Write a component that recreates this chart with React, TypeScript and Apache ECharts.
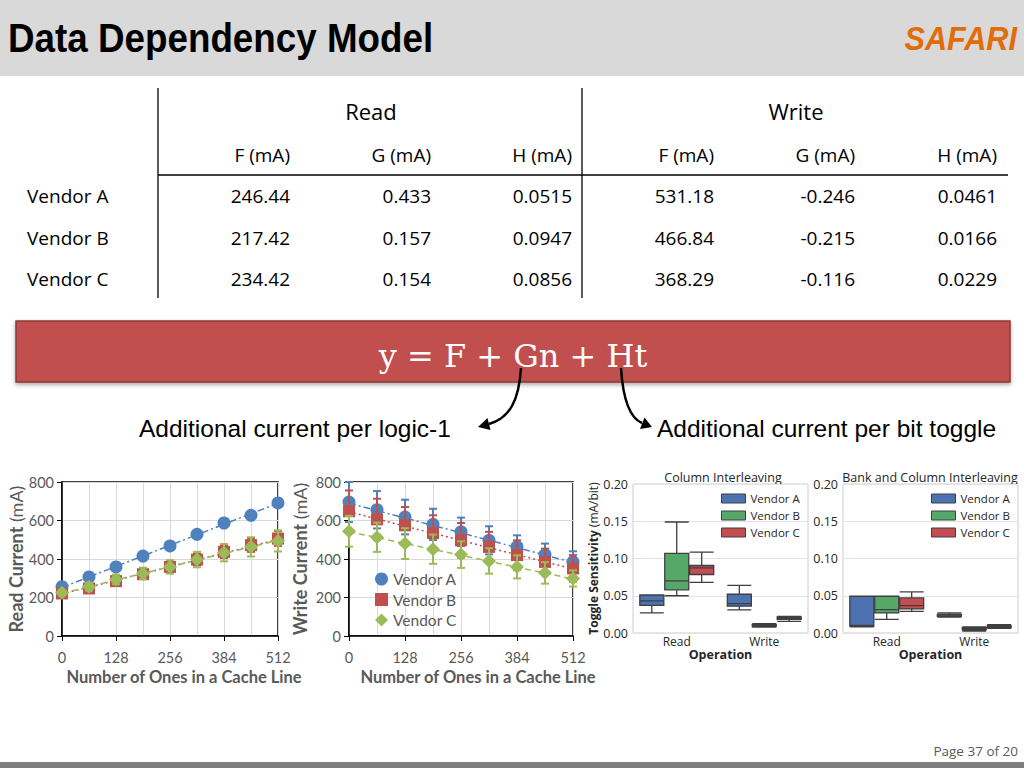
import React, { useEffect, useRef } from 'react';
import * as echarts from 'echarts';

// ---------- data ----------
const xOnes = [0, 64, 128, 192, 256, 320, 384, 448, 512];
const readA = [256, 307, 359, 415, 468, 528, 587, 627, 691];
const readB = [221, 247, 285, 321, 359, 397, 437, 472, 506];
const readC = [225, 256, 294, 325, 359, 397, 433, 463, 494];
const readErrB = [15, 18, 22, 25, 28, 30, 32, 35, 38];
const readErrC = [15, 20, 25, 30, 35, 40, 45, 50, 55];
const trendX = [0, 512];
const readTrendA = [252, 690];
const readTrendB = [218, 502];
const readTrendC = [222, 497];

const writeA = [696, 656, 618, 580, 541, 497, 463, 423, 385];
const writeB = [648, 606, 575, 535, 497, 463, 420, 385, 351];
const writeC = [544, 513, 480, 451, 423, 390, 359, 328, 299];
const writeErrA = [104, 97, 90, 81, 74, 73, 60, 57, 55];
const writeErrB = [108, 107, 95, 92, 90, 78, 77, 69, 69];
const writeErrC = [80, 76, 80, 76, 69, 66, 60, 56, 42];
const writeTrendA = [690, 382];
const writeTrendB = [645, 348];
const writeTrendC = [542, 296];

const vendors = ['Vendor A', 'Vendor B', 'Vendor C'];
const operations = ['Read', 'Write'];
// [min, Q1, median, Q3, max] for Read, Write
const ciA = [[0.027, 0.037, 0.043, 0.051, 0.051], [0.031, 0.036, 0.0395, 0.052, 0.064]];
const ciB = [[0.05, 0.058, 0.07, 0.107, 0.149], [0.008, 0.009, 0.0103, 0.0117, 0.0126]];
const ciC = [[0.068, 0.0785, 0.0874, 0.0906, 0.1085], [0.0157, 0.0184, 0.02, 0.0215, 0.0224]];
const bciA = [[0.0081, 0.0094, 0.0103, 0.0493, 0.0493], [0.0215, 0.0224, 0.0242, 0.0251, 0.0269]];
const bciB = [[0.0184, 0.0269, 0.0314, 0.0493, 0.0493], [0.0027, 0.0045, 0.0058, 0.0072, 0.0081]];
const bciC = [[0.0291, 0.0323, 0.0368, 0.0471, 0.0552], [0.0063, 0.0072, 0.0081, 0.0094, 0.0112]];

const tableGroups = ['Read', 'Write'];
const tableHeaders = ['F (mA)', 'G (mA)', 'H (mA)', 'F (mA)', 'G (mA)', 'H (mA)'];
const tableRows = ['Vendor A', 'Vendor B', 'Vendor C'];
const tableValues = [
  ['246.44', '0.433', '0.0515', '531.18', '-0.246', '0.0461'],
  ['217.42', '0.157', '0.0947', '466.84', '-0.215', '0.0166'],
  ['234.42', '0.154', '0.0856', '368.29', '-0.116', '0.0229'],
];

// ---------- styles ----------
const XL = ['#4f81bd', '#c0504d', '#9bbb59'];
const SB = ['#4c72b0', '#55a868', '#c44e52'];
const GREY = '#595959';
const CAL = 'Lato';
const SANS = 'Liberation Sans';
const OS = 'Open Sans';

const pts = (xs: number[], ys: number[]) => xs.map((x, i) => [x, ys[i]]);
const errs = (xs: number[], ys: number[], es: number[]) => xs.map((x, i) => [x, ys[i] - es[i], ys[i] + es[i]]);

const errRender = (color: string) => (params: any, api: any) => {
  const x = api.value(0);
  const pLo = api.coord([x, api.value(1)]);
  const pHi = api.coord([x, api.value(2)]);
  const w = 4;
  const st = { stroke: color, lineWidth: 2 };
  return {
    type: 'group',
    children: [
      { type: 'line', shape: { x1: pLo[0], y1: pLo[1], x2: pHi[0], y2: pHi[1] }, style: st },
      { type: 'line', shape: { x1: pLo[0] - w, y1: pLo[1], x2: pLo[0] + w, y2: pLo[1] }, style: st },
      { type: 'line', shape: { x1: pHi[0] - w, y1: pHi[1], x2: pHi[0] + w, y2: pHi[1] }, style: st },
    ],
  };
};

function lineAxes(gi: number, yName: string, yGap: number, xPad: number) {
  const x = {
    type: 'value', gridIndex: gi, min: 0, max: 512, interval: 128,
    axisLine: { show: true, lineStyle: { color: '#000', width: 1.5 } },
    axisTick: { show: true, length: 5, lineStyle: { color: '#000' } },
    axisLabel: { fontFamily: CAL, fontSize: 14.5, color: GREY, margin: 14 },
    splitLine: { show: true, lineStyle: { color: '#d9d9d9' } },
    minorTick: { show: false, splitNumber: 2 },
    minorSplitLine: { show: true, lineStyle: { color: '#d9d9d9' } },
    name: 'Number of Ones in a Cache Line', nameLocation: 'middle', nameGap: 32,
    nameTextStyle: { fontFamily: CAL, fontSize: 16.5, fontWeight: 'bold', color: GREY, padding: [0, 0, 0, xPad] },
  };
  const y = {
    type: 'value', gridIndex: gi, min: 0, max: 800, interval: 200,
    axisLine: { show: true, lineStyle: { color: '#000', width: 1.5 } },
    axisTick: { show: true, length: 5, lineStyle: { color: '#000' } },
    axisLabel: { fontFamily: CAL, fontSize: 14.5, color: GREY, margin: 8 },
    splitLine: { show: true, lineStyle: { color: '#d9d9d9' } },
    name: `{b|${yName}} {n|(mA)}`, nameLocation: 'middle', nameGap: yGap,
    nameTextStyle: {
      fontFamily: CAL, fontSize: 18, color: GREY,
      rich: {
        b: { fontFamily: CAL, fontSize: 18, fontWeight: 'bold', color: GREY },
        n: { fontFamily: CAL, fontSize: 18, color: GREY },
      },
    },
  };
  return { x, y };
}

function boxAxes(gi: number, withName: boolean) {
  const x = {
    type: 'category', gridIndex: gi, data: operations,
    axisLine: { show: false }, axisTick: { show: false },
    axisLabel: { fontFamily: OS, fontSize: 12, color: '#262626', margin: 2 },
    splitLine: { show: false },
    name: 'Operation', nameLocation: 'middle', nameGap: 10,
    nameTextStyle: { fontFamily: OS, fontSize: 12.5, fontWeight: 'bold', color: '#262626' },
  };
  const y: any = {
    type: 'value', gridIndex: gi, min: 0, max: 0.2, interval: 0.05,
    axisLine: { show: false }, axisTick: { show: false },
    axisLabel: { fontFamily: OS, fontSize: 12.5, color: '#262626', margin: 5, formatter: (v: number) => v.toFixed(2) },
    splitLine: { show: true, lineStyle: { color: '#e3e3e3' } },
  };
  if (withName) {
    y.name = '{b|Toggle Sensitivity} {n|(mA/bit)}';
    y.nameLocation = 'middle';
    y.nameGap = 33;
    y.nameTextStyle = {
      fontFamily: OS, fontSize: 12, color: '#262626',
      rich: {
        b: { fontFamily: OS, fontSize: 12, fontWeight: 'bold', color: '#262626' },
        n: { fontFamily: OS, fontSize: 12, color: '#262626' },
      },
    };
  }
  return { x, y };
}

function boxSeries(prefix: string, gi: number, sets: number[][][]) {
  return sets.map((d, i) => ({
    type: 'boxplot', name: `${prefix}|${vendors[i]}`, xAxisIndex: gi, yAxisIndex: gi,
    boxWidth: [24, 24], data: d,
    itemStyle: { color: SB[i], borderColor: '#3f3f3f', borderWidth: 1.3 },
  }));
}

function buildGraphics() {
  const g: any[] = [];
  g.push({ type: 'rect', shape: { x: 0, y: 0, width: 1024, height: 76 }, style: { fill: '#d9d9d9' } });
  g.push({ type: 'text', x: 8, y: 38, scaleX: 0.92, style: { text: 'Data Dependency Model', fontFamily: SANS, fontWeight: 'bold', fontSize: 40, fill: '#000', align: 'left', verticalAlign: 'middle' } });
  g.push({ type: 'text', x: 1017, y: 39, scaleX: 0.93, style: { text: 'SAFARI', fontFamily: SANS, fontWeight: 'bold', fontStyle: 'italic', fontSize: 33, fill: '#e36c0a', align: 'right', verticalAlign: 'middle' } });

  // table
  g.push({ type: 'line', shape: { x1: 158, y1: 88, x2: 158, y2: 298 }, style: { stroke: '#000', lineWidth: 1.3 } });
  g.push({ type: 'line', shape: { x1: 582, y1: 88, x2: 582, y2: 298 }, style: { stroke: '#000', lineWidth: 1.3 } });
  g.push({ type: 'line', shape: { x1: 158, y1: 175, x2: 1008, y2: 175 }, style: { stroke: '#000', lineWidth: 1.5 } });
  const groupX = [371, 796];
  tableGroups.forEach((t, i) => g.push({ type: 'text', x: groupX[i], y: 111, style: { text: t, fontFamily: OS, fontSize: 22, fill: '#000', align: 'center', verticalAlign: 'middle' } }));
  const colR = [290, 431, 572, 714, 855, 997];
  tableHeaders.forEach((t, i) => g.push({ type: 'text', x: colR[i], y: 155, style: { text: t, fontFamily: OS, fontSize: 19, fill: '#000', align: 'right', verticalAlign: 'middle' } }));
  const rowY = [196, 238, 279];
  tableRows.forEach((r, ri) => {
    g.push({ type: 'text', x: 27, y: rowY[ri], style: { text: r, fontFamily: OS, fontSize: 19, fill: '#000', align: 'left', verticalAlign: 'middle' } });
    tableValues[ri].forEach((v, ci) => g.push({ type: 'text', x: colR[ci], y: rowY[ri], style: { text: v, fontFamily: OS, fontSize: 19, fill: '#000', align: 'right', verticalAlign: 'middle' } }));
  });

  // equation box
  g.push({ type: 'rect', shape: { x: 16, y: 321, width: 994, height: 61 }, style: { fill: '#c0504d', stroke: '#8c3836', lineWidth: 1.5, shadowBlur: 4, shadowOffsetY: 2, shadowColor: 'rgba(0,0,0,0.35)' } });
  g.push({ type: 'text', x: 513, y: 356, style: { text: 'y = F + Gn + Ht', fontFamily: 'DejaVu Serif', fontSize: 32, fill: '#fff', align: 'center', verticalAlign: 'middle' } });

  // arrows
  g.push({ type: 'bezierCurve', shape: { x1: 521, y1: 368, cpx1: 519, cpy1: 400, cpx2: 510, cpy2: 418, x2: 489, y2: 424 }, style: { stroke: '#000', lineWidth: 2.5, fill: 'none' } });
  g.push({ type: 'polygon', shape: { points: [[478, 427], [490.5, 430], [487.5, 418]] }, style: { fill: '#000' } });
  g.push({ type: 'bezierCurve', shape: { x1: 621, y1: 368, cpx1: 623, cpy1: 400, cpx2: 630, cpy2: 418, x2: 642, y2: 423 }, style: { stroke: '#000', lineWidth: 2.5, fill: 'none' } });
  g.push({ type: 'polygon', shape: { points: [[652, 427], [640, 429], [644.5, 417.5]] }, style: { fill: '#000' } });

  g.push({ type: 'text', x: 139, y: 428, style: { text: 'Additional current per logic-1', fontFamily: SANS, fontSize: 24.5, fill: '#000', align: 'left', verticalAlign: 'middle' } });
  g.push({ type: 'text', x: 657, y: 428, style: { text: 'Additional current per bit toggle', fontFamily: SANS, fontSize: 24.5, fill: '#000', align: 'left', verticalAlign: 'middle' } });

  // box chart titles
  g.push({ type: 'text', x: 723, y: 477, style: { text: 'Column Interleaving', fontFamily: OS, fontSize: 12.5, fill: '#262626', align: 'center', verticalAlign: 'middle' } });
  g.push({ type: 'text', x: 930, y: 477, style: { text: 'Bank and Column Interleaving', fontFamily: OS, fontSize: 12.5, fill: '#262626', align: 'center', verticalAlign: 'middle' } });

  // footer
  g.push({ type: 'text', x: 1018, y: 751, style: { text: 'Page 37 of 20', fontFamily: OS, fontSize: 13.5, fill: GREY, align: 'right', verticalAlign: 'middle' } });
  g.push({ type: 'rect', shape: { x: 0, y: 762, width: 1024, height: 6 }, style: { fill: '#7f7f7f' } });
  return g;
}

function buildOption() {
  const a0 = lineAxes(0, 'Read Current', 37, 28);
  const a1 = lineAxes(1, 'Write Current', 40, 34);
  const b2 = boxAxes(2, true);
  const b3 = boxAxes(3, false);
  const symbols = ['circle', 'rect', 'diamond'];
  const symSize = [13, 12, 14];

  const readVals = [readA, readB, readC];
  const readErr = [null, readErrB, readErrC];
  const readTr = [readTrendA, readTrendB, readTrendC];
  const writeVals = [writeA, writeB, writeC];
  const writeErr = [writeErrA, writeErrB, writeErrC];
  const writeTr = [writeTrendA, writeTrendB, writeTrendC];
  const dash = [[7, 3, 2, 3], [2, 3], [6, 4]];

  const series: any[] = [];
  [0, 1].forEach((gi) => {
    const vals = gi === 0 ? readVals : writeVals;
    const er = gi === 0 ? readErr : writeErr;
    const tr = gi === 0 ? readTr : writeTr;
    const prefix = gi === 0 ? 'R' : 'W';
    vals.forEach((v, i) => {
      series.push({
        type: 'line', name: `${prefix}trend${i}`, xAxisIndex: gi, yAxisIndex: gi, z: 2,
        data: pts(trendX, tr[i]), symbol: 'none', silent: true,
        lineStyle: { color: XL[i], width: 1.5, type: dash[i] },
      });
    });
    vals.forEach((v, i) => {
      const e = er[i];
      if (e) {
        series.push({
          type: 'custom', name: `${prefix}err${i}`, xAxisIndex: gi, yAxisIndex: gi, z: 3 + i,
          data: errs(xOnes, v, e), encode: { x: 0, y: [1, 2] }, renderItem: errRender(XL[i]),
        });
      }
      series.push({
        type: 'scatter', name: `${prefix}|${vendors[i]}`, xAxisIndex: gi, yAxisIndex: gi, z: 3 + i,
        data: pts(xOnes, v), symbol: symbols[i], symbolSize: symSize[i],
        itemStyle: { color: XL[i], opacity: 1 },
      });
    });
  });
  series.push(...boxSeries('CI', 2, [ciA, ciB, ciC]));
  series.push(...boxSeries('BCI', 3, [bciA, bciB, bciC]));

  const strip = (n: string) => n.split('|')[1];
  const boxLegend = (prefix: string, left: number) => ({
    orient: 'vertical', left, top: 487, itemWidth: 24, itemHeight: 9, itemGap: 4,
    icon: 'rect', selectedMode: false, formatter: strip,
    data: vendors.map((v, i) => ({
      name: `${prefix}|${v}`, icon: 'rect',
      itemStyle: { color: SB[i], borderColor: '#3f3f3f', borderWidth: 1 },
    })),
    textStyle: { fontFamily: OS, fontSize: 11.5, color: '#262626', lineHeight: 13 },
  });

  return {
    animation: false,
    backgroundColor: '#ffffff',
    grid: [
      { left: 62, top: 482, width: 216, height: 154, show: true, borderColor: '#000', borderWidth: 1.5, backgroundColor: '#fff' },
      { left: 349, top: 482, width: 224, height: 154, show: true, borderColor: '#000', borderWidth: 1.5, backgroundColor: '#fff' },
      { left: 633, top: 484, width: 175, height: 149, show: true, borderColor: '#cccccc', borderWidth: 1, backgroundColor: '#fff' },
      { left: 843, top: 484, width: 175, height: 149, show: true, borderColor: '#cccccc', borderWidth: 1, backgroundColor: '#fff' },
    ],
    xAxis: [a0.x, a1.x, b2.x, b3.x],
    yAxis: [a0.y, a1.y, b2.y, b3.y],
    legend: [
      {
        orient: 'vertical', left: 370, top: 565, itemWidth: 13, itemHeight: 13, itemGap: 2.5,
        selectedMode: false, formatter: strip,
        data: vendors.map((v, i) => ({ name: `W|${v}`, icon: symbols[i] })),
        textStyle: { fontFamily: CAL, fontSize: 15.5, color: GREY, lineHeight: 18 },
      },
      boxLegend('CI', 716),
      boxLegend('BCI', 926),
    ],
    graphic: buildGraphics(),
    series,
  };
}

export default function App() {
  const ref = useRef<HTMLDivElement>(null);
  useEffect(() => {
    if (!ref.current) return;
    const chart = echarts.init(ref.current, null, { renderer: 'svg' });
    chart.setOption(buildOption() as any);
    return () => chart.dispose();
  }, []);
  return <div ref={ref} style={{ position: 'fixed', left: 0, top: 0, width: 1024, height: 768, background: '#fff' }} />;
}
